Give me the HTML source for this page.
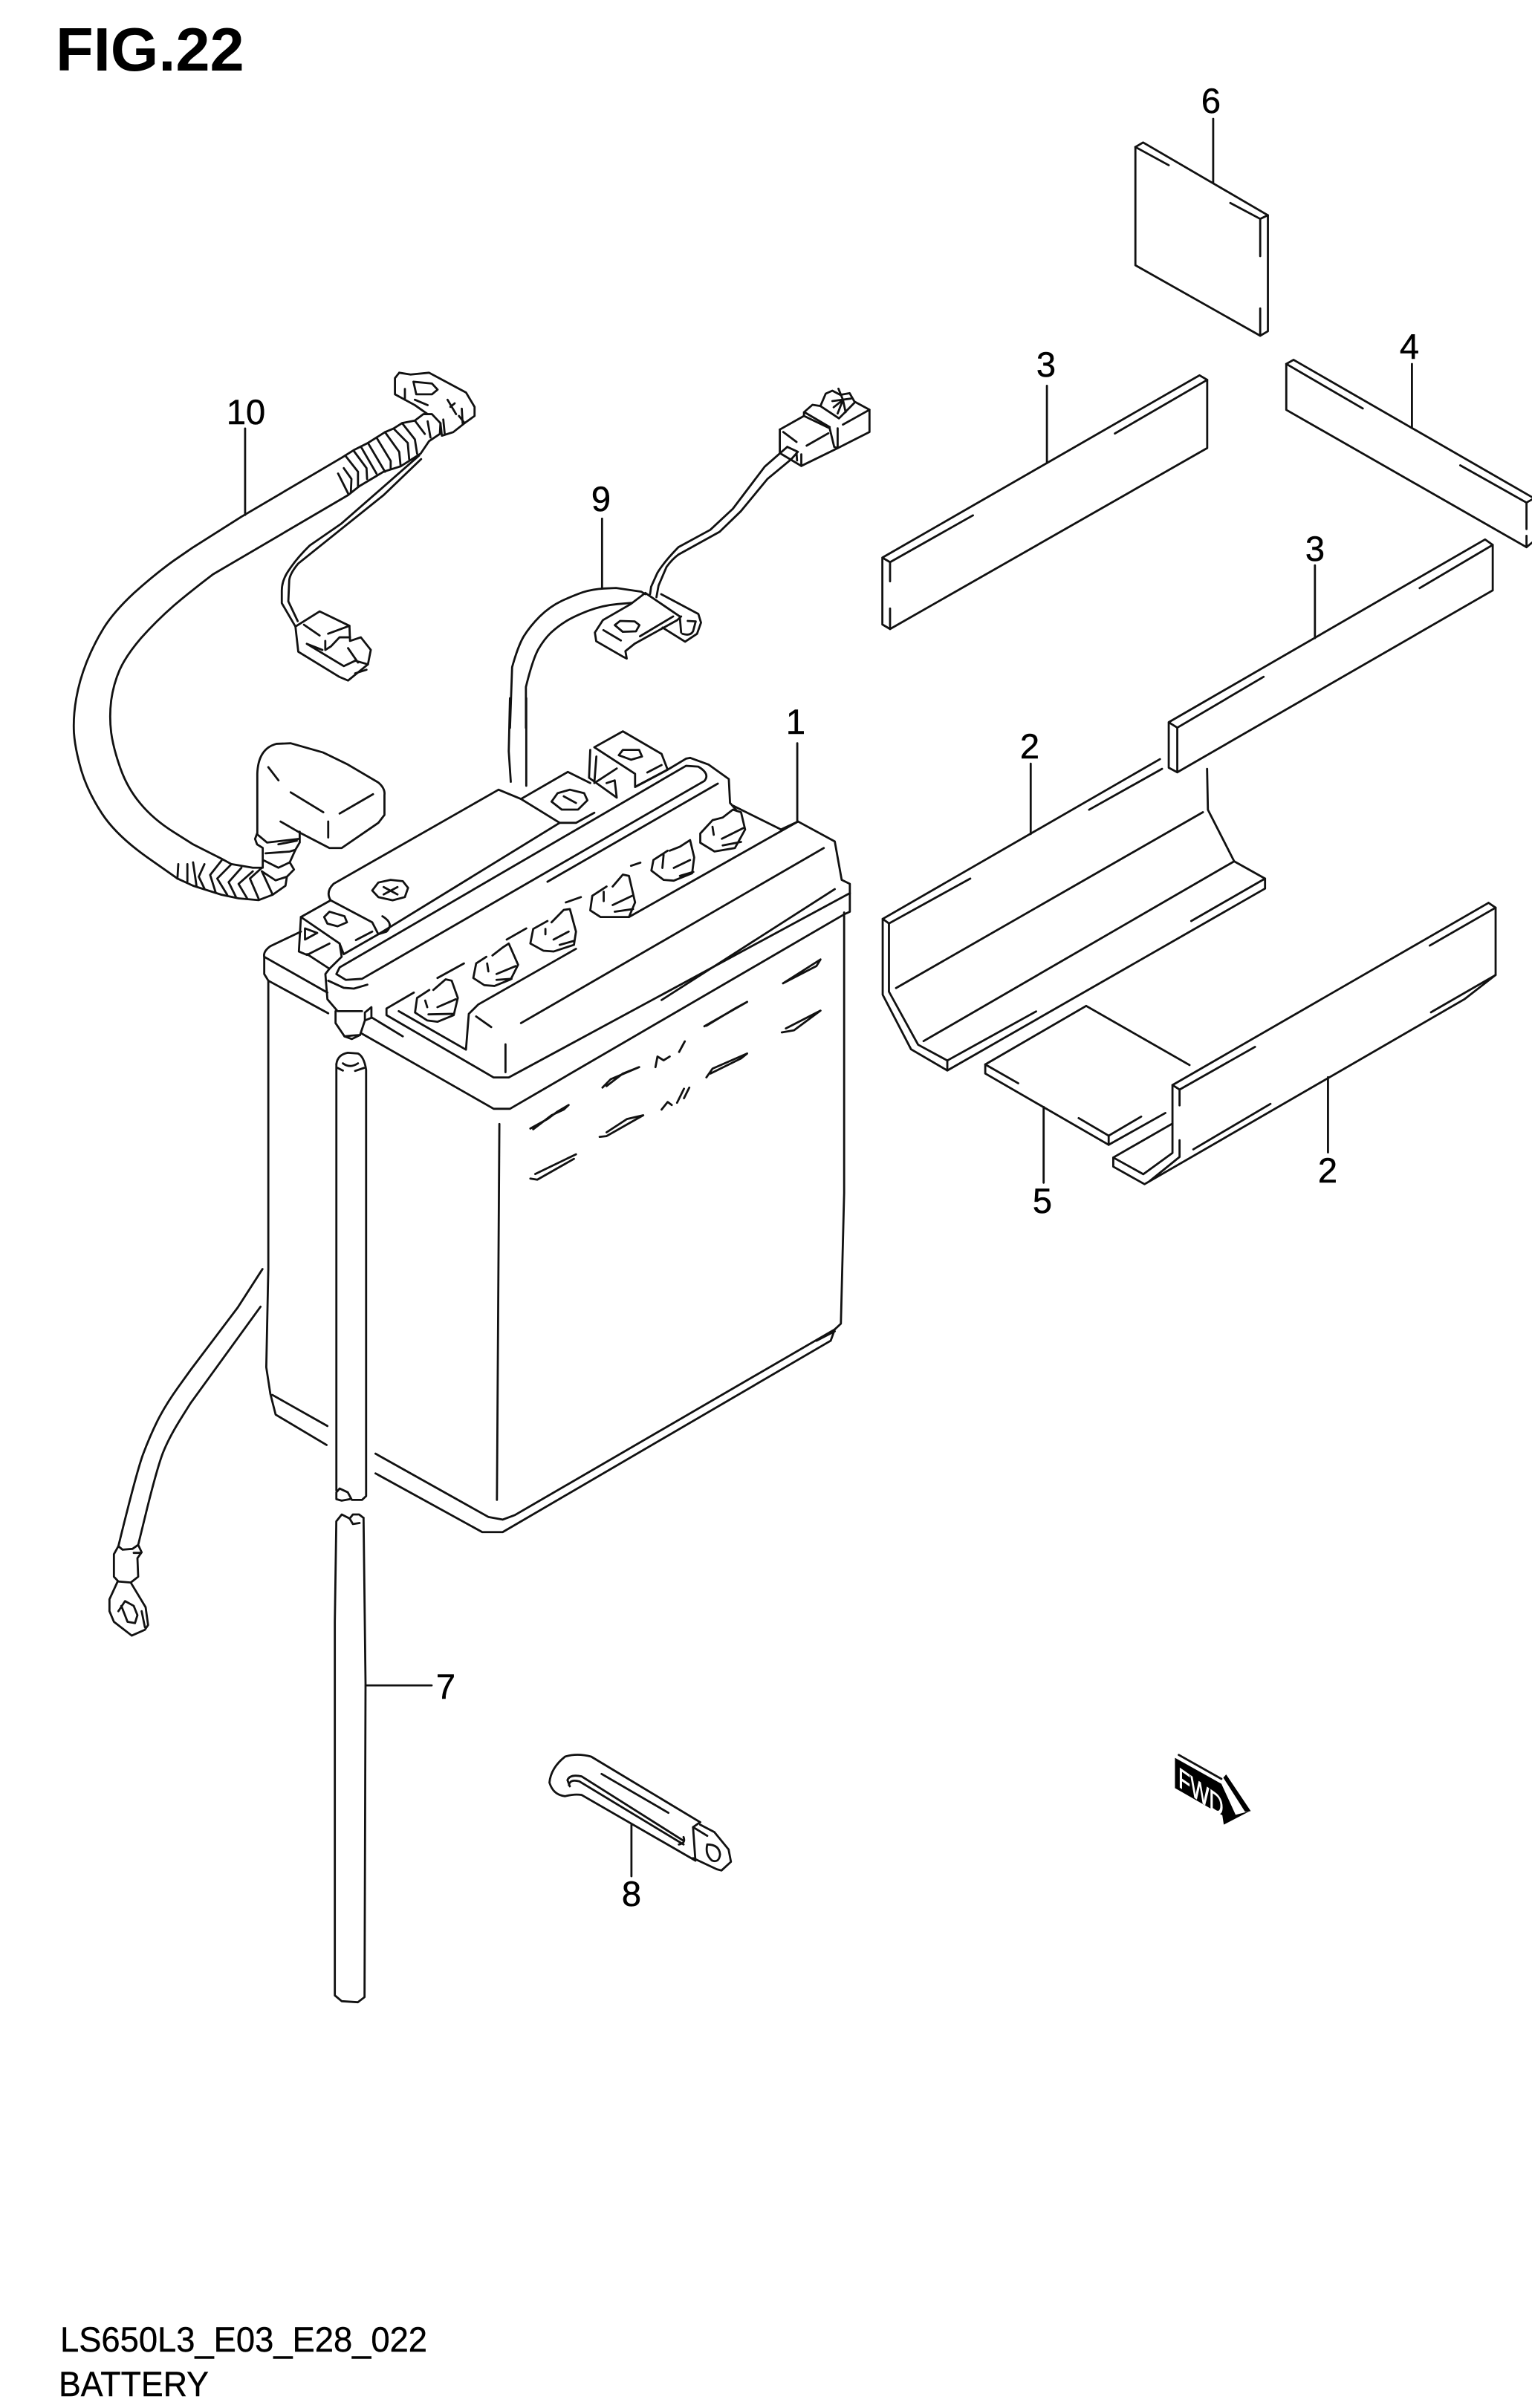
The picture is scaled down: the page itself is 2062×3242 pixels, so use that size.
<!DOCTYPE html>
<html>
<head>
<meta charset="utf-8">
<style>
html,body{margin:0;padding:0;background:#fff;width:2062px;height:3242px;overflow:hidden}
svg{display:block}
path{fill:none;stroke:#111;stroke-width:2.8;stroke-linejoin:round;stroke-linecap:round;vector-effect:non-scaling-stroke}
text{font-family:"Liberation Sans",sans-serif;fill:#000}
.n{font-size:47px;text-anchor:middle;stroke:#000;stroke-width:.5px}
</style>
</head>
<body>
<svg width="2062" height="3242" viewBox="0 0 2062 3242" xmlns="http://www.w3.org/2000/svg">
<rect width="2062" height="3242" fill="#fff"/>

<text x="75" y="95" font-size="83" font-weight="700">FIG.22</text>
<text x="81" y="3166" font-size="47" textLength="494" lengthAdjust="spacingAndGlyphs" stroke="#000" stroke-width=".4">LS650L3_E03_E28_022</text>
<text x="79" y="3226" font-size="47" textLength="202" lengthAdjust="spacingAndGlyphs" stroke="#000" stroke-width=".4">BATTERY</text>

<text class="n" x="1071" y="988">1</text>
<text class="n" x="1386" y="1021">2</text>
<text class="n" x="1787" y="1592">2</text>
<text class="n" x="1408" y="507">3</text>
<text class="n" x="1770" y="755">3</text>
<text class="n" x="1897" y="483">4</text>
<text class="n" x="1403" y="1633">5</text>
<text class="n" x="1630" y="152">6</text>
<text class="n" x="600" y="2287">7</text>
<text class="n" x="850" y="2566">8</text>
<text class="n" x="809" y="688">9</text>
<text class="n" x="331" y="571">10</text>

<!-- battery top -->
<g transform="translate(320,940) scale(.5485,.3571)">
<path d="M1373,170 L1373,465"/>
<path d="M48,515 L48,285 Q50,190 95,172 L130,170 L210,205 L270,250 L345,318 Q362,340 360,365 L360,440 L345,470 L255,565 L225,565 L150,505 L105,465"/>
<path d="M75,260 L100,310 M130,355 L210,430 M250,435 L332,362 M222,465 L222,525"/>
<path d="M155,880 L80,935 Q62,955 65,975 L65,1040 L75,1065 L222,1188"/>
<path d="M65,975 L220,1110"/>
<path d="M305,1265 L628,1548 L668,1548 L1488,815 L1502,805 L1502,700 L1482,685 L1465,540 L1375,465 L1333,495 L1215,405"/>
<path d="M1502,735 L665,1430 L628,1430 L365,1195 L365,1170 L432,1110"/>
<path d="M395,1180 L560,1325 L567,1190 L590,1155 L830,945"/>
<path d="M960,825 L1375,465"/>
<path d="M695,1225 L1438,565"/>
<path d="M1040,1138 L1465,720"/>
<path d="M330,1205 L405,1275 M585,1200 L622,1240 M657,1305 L657,1410"/>
<path d="M1338,1075 L1430,985 L1420,1010 L1338,1075"/>
<path d="M1145,1237 L1250,1145 L1220,1170 L1150,1235"/>
<path d="M1335,1260 L1365,1252 L1430,1178 L1345,1245"/>
<path d="M225,1020 L215,1040 L220,1135 L245,1180 L305,1180"/>
<path d="M222,1065 L260,1092 L285,1095 L318,1080"/>
<path d="M250,1015 L242,1040 L265,1062 L305,1058 L1145,312 Q1160,285 1130,258 L1100,255 L250,1015"/>
<path d="M760,692 L1178,322"/>
<path d="M228,762 Q215,730 235,700 L640,345 L695,380 L790,470 L830,470 L875,432"/>
<path d="M695,380 L810,278 L865,320"/>
<path d="M345,890 L790,470"/>
<path d="M1110,225 L1155,250 L1205,305 L1208,395 L1225,425"/>
<path d="M980,330 L1060,265 L1100,228 L1110,225"/>
<path d="M490,1055 L555,1000 M660,910 L708,868 M805,770 L842,750 M965,632 L988,620"/>
<path d="M668,0 L665,200 L670,315 M708,0 L708,330"/>
<!-- left terminal -->
<path d="M155,825 L228,762 L330,845 L345,890 L260,965 L250,925 L155,825"/>
<path d="M155,825 L150,955 L170,968 L225,925"/>
<path d="M165,868 L165,910 L195,885 Z"/>
<path d="M170,965 L225,1020 L255,975 L250,925"/>
<path d="M290,912 L330,880"/>
<path d="M355,822 Q385,850 365,880 L345,890"/>
<path d="M225,805 L262,822 L268,845 L245,860 L220,850 L212,825 Z"/>
<!-- right terminal -->
<path d="M875,185 L945,125 L1040,210 L1055,270 L975,335 L975,285 L875,185"/>
<path d="M865,195 L862,300 L930,375 L925,310 L905,320"/>
<path d="M880,220 L875,320 L930,265"/>
<path d="M1005,280 L1040,252"/>
<path d="M945,195 L985,195 L992,220 L965,232 L935,215 Z"/>
<!-- screws -->
<path d="M375,685 L405,690 L418,715 L410,750 L380,762 L345,750 L330,725 L345,695 Z M358,712 L392,740 M392,712 L358,740"/>
<path d="M815,345 L850,358 L858,385 L835,420 L795,420 L770,390 L785,358 Z M800,370 L830,395"/>
<!-- drain elbow -->
<path d="M240,1180 L240,1225 L262,1275 L280,1285 L300,1270 L312,1215 L312,1185 L328,1165 L328,1205 L312,1215"/>
<path d="M262,1275 L280,1272 L300,1270"/>
<!-- vent caps -->
<path d="M470,1100 L440,1130 L435,1185 L465,1215 L490,1220 L530,1195 L540,1130 L525,1065 L510,1060 L480,1100 M460,1140 L465,1165 M490,1165 L535,1135 M468,1192 L530,1190"/>
<path d="M610,975 L585,1000 L578,1055 L605,1082 L630,1085 L670,1060 L688,1005 L665,925 L650,940 L625,970 M612,1000 L615,1030 M635,1040 L682,1010 M635,1062 L672,1058"/>
<path d="M760,840 L725,870 L718,925 L750,952 L775,955 L825,930 L830,880 L815,795 L800,798 L770,845 M755,870 L755,890 M775,910 L812,880 M790,930 L825,915"/>
<path d="M905,710 L870,745 L865,800 L890,825 L960,825 L975,770 L960,670 L945,665 L920,710 M898,730 L898,765 M920,780 L968,745 M925,805 L970,795"/>
<path d="M1055,575 L1020,610 L1015,650 L1045,685 L1070,688 L1115,660 L1120,600 L1110,535 L1085,560 L1060,575 M1045,590 L1042,640 M1070,640 L1110,610 M1085,670 L1118,655"/>
<path d="M1165,460 L1135,510 L1135,545 L1170,578 L1220,565 L1245,495 L1235,430 L1215,420 L1190,450 L1165,460 M1165,485 L1168,515 M1188,530 L1240,490 M1190,555 L1235,542"/>
</g>

<!-- battery body -->
<g transform="translate(320,1300) scale(.5485,.5102)">
<path d="M75,40 L75,800 L70,1060 L80,1130 L93,1185 L218,1265"/>
<path d="M85,1133 L220,1215"/>
<path d="M338,1288 L615,1455 L650,1462 L680,1450 L1465,960 L1480,945 L1488,600 L1488,-140"/>
<path d="M338,1340 L600,1495 L650,1495 L1455,990 L1465,960"/>
<path d="M1420,990 L1465,965"/>
<path d="M642,418 L636,1410"/>
<path d="M242,260 Q245,235 270,230 L295,232 Q310,240 315,275 L315,1400 L305,1410 L280,1410 L270,1390 L250,1380 L242,1390 L242,1408 L255,1412 L275,1408"/>
<path d="M242,260 L242,1385"/>
<path d="M258,258 Q275,272 295,258 M245,270 L258,277 M288,278 L310,270"/>
<path d="M718,430 L760,405 L785,385 L812,368 L800,380 L770,395 L725,432"/>
<path d="M895,322 L915,300 L985,268 L945,285 L905,318"/>
<path d="M1025,268 L1030,240 L1045,250 L1060,240 M1083,228 L1097,200"/>
<path d="M1150,295 L1165,272 L1250,232 L1235,245 L1160,285"/>
<path d="M1040,380 L1055,360 L1065,368 M1078,362 L1095,325 M1095,350 L1108,322"/>
<path d="M888,452 L905,450 L995,395 L955,405 L905,440"/>
<path d="M730,550 L830,498 M718,562 L735,565 L825,510"/>
</g>

<!-- cable 10 -->
<g transform="translate(80,480) scale(.3827,.4847)">
<path d="M653,200 L653,440"/>
<path d="M995,280 L640,445 L470,530 L402,567 Q335,605 262,657 Q190,710 155,755 Q120,800 95,850 Q70,900 59,950 Q48,1000 51,1045 Q55,1090 77,1150 Q100,1210 150,1270 Q200,1330 307,1390 L415,1450"/>
<path d="M1015,385 L540,605 Q465,650 402,692 Q340,735 287,782 Q235,830 212,870 Q190,910 182,955 Q175,1000 182,1045 Q190,1090 215,1145 Q240,1200 285,1242 Q330,1285 400,1320 L470,1355 L570,1395"/>
<path d="M995,280 L1035,260 L1085,240 L1115,225 L1145,210 L1175,200 L1205,185 L1250,178 L1280,160 L1310,160 L1340,185 L1338,215 L1300,235 L1270,270 L1200,305 L1140,320 L1055,360 L1015,385"/>
<path d="M1005,275 L1050,320 L1050,360 M1035,262 L1080,310 L1082,340 M1060,250 L1115,325 M1085,240 L1145,320 M1115,225 L1165,290 L1165,310 M1145,210 L1195,265 L1200,305 M1175,200 L1225,240 L1230,285 M1205,185 L1250,230 L1258,270 M1250,178 L1285,215 M1295,180 L1305,225 M980,325 L1015,380 M1000,310 L1027,340 L1025,375"/>
<path d="M1195,45 L1180,60 L1180,105 L1250,135 L1295,160"/>
<path d="M1195,45 L1235,50 L1300,45 L1430,100 L1460,140 L1460,165 L1425,185 L1405,165"/>
<path d="M1340,185 L1345,220 L1385,210 L1425,185"/>
<path d="M1245,70 L1310,75 L1330,92 L1310,105 L1255,105 L1245,70"/>
<path d="M1250,120 L1295,135 M1215,90 L1215,120 M1365,120 L1395,160 M1415,145 L1418,185 M1350,175 L1355,215 M1375,140 L1390,130"/>
<path d="M1265,275 L1135,365 L990,465 L880,525 Q835,560 810,590 Q782,620 782,650 L782,685 L830,750"/>
<path d="M1272,285 L1140,385 L840,575 Q808,605 808,625 L805,680 L838,735"/>
<path d="M830,750 L915,708 L1020,748 L1022,790 L1060,780 L1095,815 L1085,855 L1015,900 L985,890 L840,820 L830,750"/>
<path d="M860,745 L915,775 M945,770 L1020,748 M935,790 L935,815 L955,805 L985,780 L1022,780"/>
<path d="M870,798 L1000,860 L1040,845 L1085,855 M870,798 L925,815 M1015,810 L1050,850 M1040,880 L1080,870"/>
<path d="M570,1395 L605,1410 L680,1420 L712,1420"/>
<path d="M415,1450 L470,1470 L510,1480 L570,1495 L630,1505 L700,1510 L750,1495 L795,1470 L800,1445 L825,1425 L810,1405 L830,1370 L845,1350 L845,1320"/>
<path d="M418,1410 L415,1450 M450,1410 L450,1458 M470,1405 L482,1470 M510,1410 L490,1445 L510,1478 M570,1400 L530,1440 L550,1490 M605,1410 L555,1450 L590,1495 M640,1420 L595,1460 L620,1500 M680,1430 L630,1465 L660,1505 M712,1420 L670,1450 L700,1505 M712,1430 L750,1495"/>
<path d="M695,1325 L688,1340 L695,1355 L715,1365 L715,1420"/>
<path d="M700,1330 L730,1350 L840,1340 M770,1355 L835,1345 M725,1380 L810,1375 L830,1370 M720,1400 L770,1420 L810,1405 M712,1430 L760,1455 L800,1445"/>
</g>

<!-- cable 9 -->
<g transform="translate(640,480) scale(.3571,.3333)">
<path d="M477,655 L477,935"/>
<path d="M130,1500 L138,1255 Q160,1170 182,1130 Q205,1090 242,1050 Q280,1010 325,987 Q370,965 405,952 Q440,940 485,937 L530,935 L625,950 L640,960"/>
<path d="M190,1500 L190,1335 Q215,1225 237,1182 Q260,1140 285,1115 Q310,1090 340,1070 Q370,1050 425,1027 Q480,1005 535,1000 L590,995"/>
<path d="M640,955 L585,1000 L480,1065 L450,1115 L455,1150 L555,1212 L570,1220 L565,1190 L600,1160 L760,1065 L775,1050"/>
<path d="M640,955 L770,1050 L775,1115"/>
<path d="M700,960 L840,1040 L850,1075 L835,1120 L790,1152 L705,1095"/>
<path d="M780,1120 Q810,1130 820,1110 L830,1070 L800,1068"/>
<path d="M620,1130 L745,1050"/>
<path d="M525,1085 L545,1068 L600,1070 L618,1085 L605,1110 L555,1112 Z"/>
<path d="M482,1105 L548,1147"/>
<path d="M658,960 L662,930 L685,875 Q710,830 765,770 L885,700 L970,615 L1090,445 L1175,365"/>
<path d="M682,972 L690,925 L720,850 Q740,820 765,800 L920,708 L1000,625 L1100,495 L1190,415"/>
<path d="M1147,295 L1147,390 L1228,442 L1365,370 L1485,305 L1485,215 L1430,183"/>
<path d="M1147,295 L1238,240 L1335,290 L1352,365 L1365,370"/>
<path d="M1238,225 L1238,240 M1238,225 L1270,195 L1300,200 M1240,225 L1335,285"/>
<path d="M1160,305 L1210,345 M1248,360 L1330,310 M1365,290 L1365,365 M1385,275 L1485,215"/>
<path d="M1175,365 L1215,385 L1190,415 M1228,395 L1228,442 M1210,390 L1212,420"/>
<path d="M1300,200 L1320,150 L1345,138 L1375,155 L1410,148 L1430,185 L1370,250 L1300,200"/>
<path d="M1368,130 L1385,175 L1365,230 M1345,180 L1415,170 M1385,175 L1350,205 M1385,175 L1395,225"/>
</g>

<!-- pads -->
<g transform="translate(1160,100) scale(.5753,.6122)">
<path d="M822,98 L822,238"/>
<path d="M640,160 L658,150 L950,310 L932,318"/>
<path d="M640,160 L718,200 M862,283 L932,318"/>
<path d="M640,160 L640,420 L932,575 L950,565 L950,310"/>
<path d="M932,318 L932,400 M932,515 L932,575"/>
<path d="M433,685 L433,855"/>
<path d="M48,1063 L790,662 L808,672 L808,822 L66,1220 L48,1210 L48,1063 L66,1073 L260,970"/>
<path d="M592,790 L808,672 M66,1073 L66,1115 M66,1175 L66,1220"/>
<path d="M1287,637 L1287,778"/>
<path d="M993,637 L1010,628 L1568,930"/>
<path d="M993,637 L993,738 L1555,1040 L1568,1030"/>
<path d="M993,637 L1172,735 M1400,860 L1555,942 L1568,935 M1555,942 L1555,1000 M1555,1015 L1555,1040"/>
<path d="M1060,1080 L1060,1240"/>
<path d="M718,1425 L1458,1023 L1476,1035 L1476,1135 L738,1535 L718,1525 L718,1425 L738,1437 L940,1325"/>
<path d="M738,1437 L738,1535 M1305,1130 L1476,1035"/>
</g>

<!-- trays -->
<g transform="translate(1160,980) scale(.5612,.4082)">
<path d="M405,118 L405,350 M1118,1152 L1118,1400 M436,1250 L436,1500"/>
<path d="M715,103 L50,630 L65,645 L260,497"/>
<path d="M720,135 L545,270"/>
<path d="M50,630 L50,880 L118,1060 L205,1130 L967,530 L967,497 L893,440 L830,270 L828,135"/>
<path d="M65,645 L65,870 L135,1045 L205,1097 L418,935"/>
<path d="M790,637 L967,497"/>
<path d="M205,1097 L205,1130"/>
<path d="M82,858 L818,278 M148,1033 L893,440"/>
<path d="M538,917 L296,1110 L296,1140 L592,1375 L592,1345"/>
<path d="M296,1110 L375,1172 M520,1287 L592,1345 L670,1282 M592,1375 L728,1270 M538,917 L786,1112"/>
<path d="M1503,577 L1520,593 L1520,815 L1445,895 L678,1505 L603,1447 L603,1417 L745,1305"/>
<path d="M1503,577 L745,1178 L762,1193 L943,1052"/>
<path d="M1520,593 L1362,718"/>
<path d="M745,1178 L745,1402 L675,1472 L603,1417"/>
<path d="M762,1193 L762,1245 M762,1360 L762,1415 L690,1495 M795,1390 L980,1240 M1520,815 L1365,938"/>
</g>

<!-- lower cable -->
<g transform="translate(100,1680) scale(.3333,.3571)">
<path d="M760,80 L660,225 L470,460 L420,525 Q370,590 337,650 Q305,710 277,780 Q250,850 178,1125"/>
<path d="M752,222 L470,585 L425,652 Q380,720 357,775 Q335,830 296,975 L258,1120"/>
<path d="M178,1125 L160,1155 L160,1240 L178,1258 L228,1262 L258,1240 L255,1170 L272,1148 L258,1120 L235,1135 L195,1138 Z M240,1150 L270,1150"/>
<path d="M175,1258 L142,1325 L142,1370 L160,1410 L232,1462 L285,1440 L298,1422 L288,1355 L228,1262"/>
<path d="M178,1370 L205,1332 L240,1350 L255,1385 L245,1415 L215,1410 L190,1350 M272,1370 L285,1430"/>
</g>

<!-- tube lower -->
<g transform="translate(400,2000) scale(.3333,.4592)">
<path d="M268,95 L250,85 L225,85 L212,97 L225,113 L252,110"/>
<path d="M212,97 L180,85 L158,105 L152,400 L152,1495 L180,1512 L245,1515 L272,1500 L276,580 L268,95"/>
<path d="M278,586 L543,586"/>
</g>

<!-- strap 8 and FWD -->
<g transform="translate(700,2320) scale(.6378,.3333)">
<path d="M380,400 L150,135 Q120,120 95,135 Q65,180 62,240 Q70,290 95,295 Q115,285 130,290 L370,555"/>
<path d="M345,475 L130,215 Q105,205 100,230 L105,255"/>
<path d="M345,490 L125,235 Q105,225 103,250"/>
<path d="M172,205 L313,362"/>
<path d="M380,400 L365,420 L370,555"/>
<path d="M380,410 L410,440 L440,510 L445,560 L425,595 L415,590 L365,545"/>
<path d="M365,420 L395,455"/>
<path d="M395,490 Q420,490 422,530 Q420,565 405,555 Q390,530 395,490"/>
<path d="M235,410 L235,618"/>
<path d="M345,460 Q350,485 335,490"/>
<polygon points="1382,140 1480,245 1510,370 1540,355 1485,410 1482,372 1382,262" fill="#000"/>
<polygon points="1490,207 1542,355 1530,358 1484,220" fill="#000"/>
<path d="M1390,128 L1480,225"/>
</g>
<text transform="translate(1586,2405) matrix(.7,.49,0,1,0,0)" font-size="38" style="fill:#fff;stroke:#fff;stroke-width:.8px">FWD</text>
</svg>
</body>
</html>
